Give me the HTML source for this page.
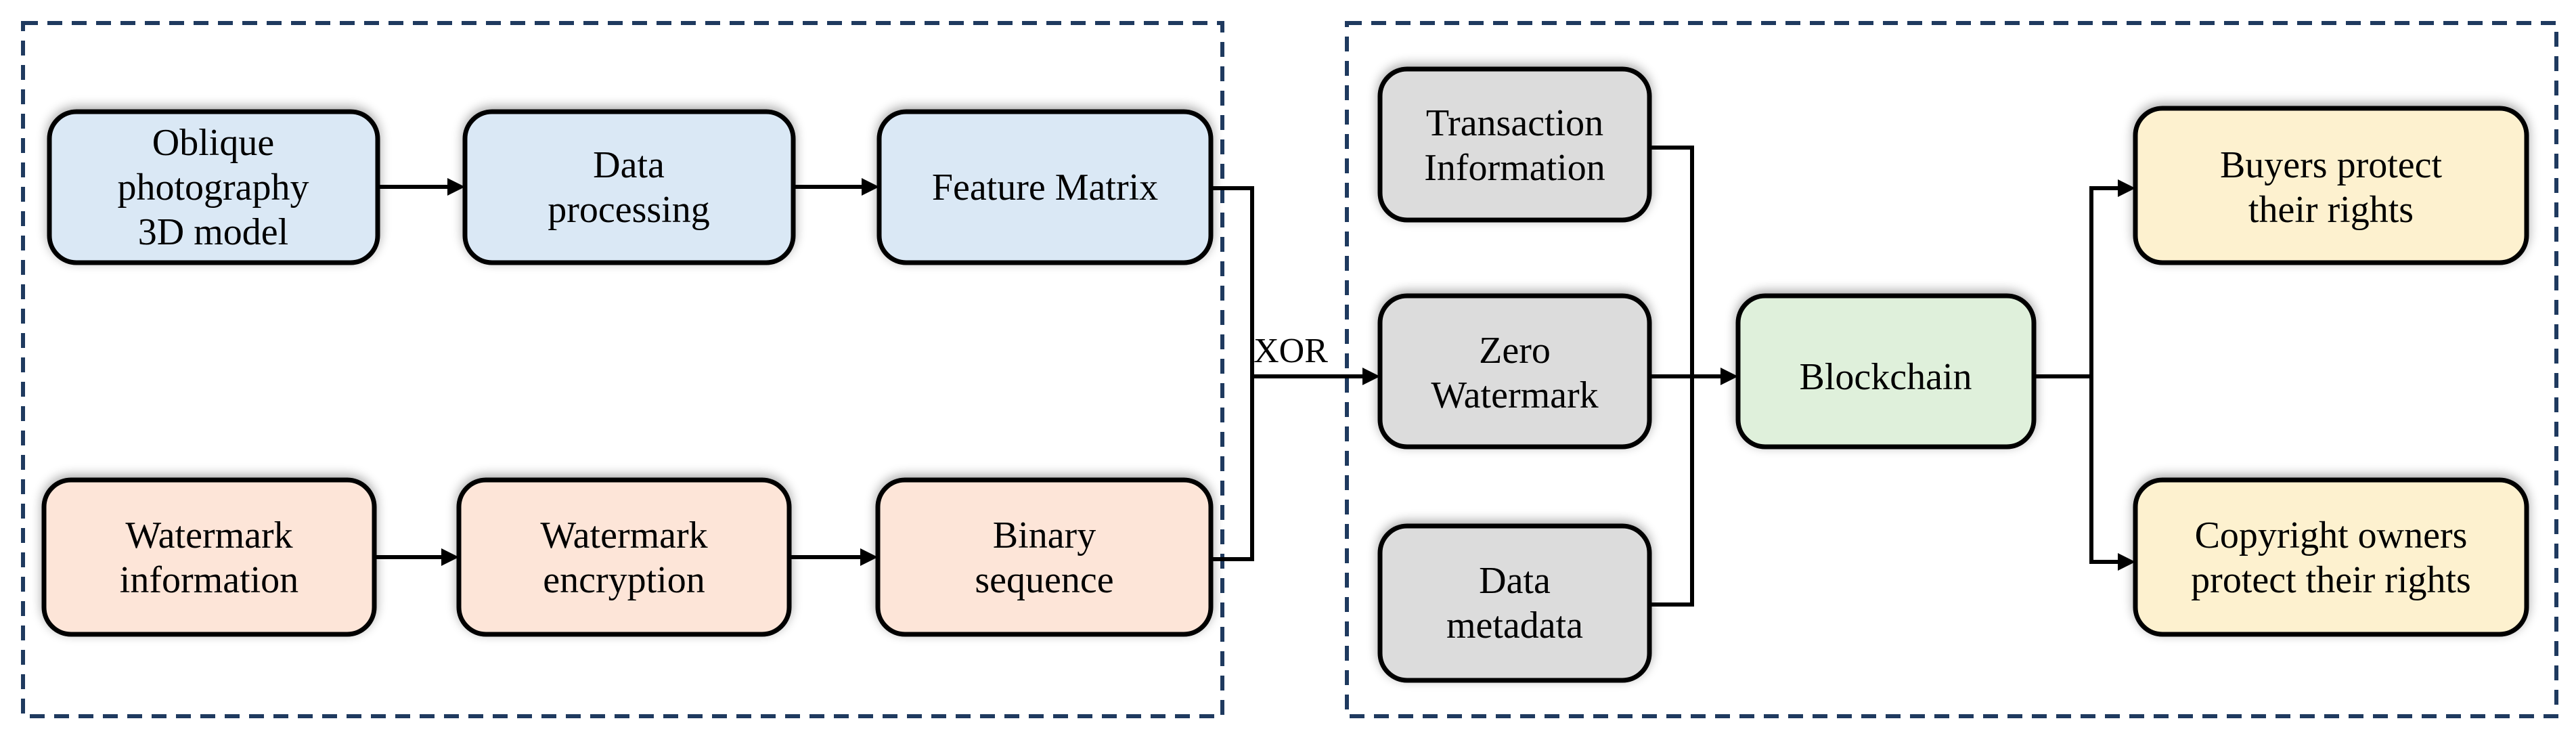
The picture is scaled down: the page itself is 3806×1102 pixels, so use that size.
<!DOCTYPE html>
<html><head><meta charset="utf-8"><style>
html,body{margin:0;padding:0;background:#fff;}
svg{display:block;}
text{font-family:"Liberation Serif",serif;font-size:56px;fill:#000;text-anchor:middle;}
</style></head><body>
<svg width="3806" height="1102" viewBox="0 0 3806 1102" xmlns="http://www.w3.org/2000/svg">
<defs>
<filter id="sh" x="-10%" y="-20%" width="120%" height="140%"><feGaussianBlur in="SourceAlpha" stdDeviation="8"/><feOffset dx="0" dy="-4"/><feComponentTransfer><feFuncA type="linear" slope="0.35"/></feComponentTransfer><feMerge><feMergeNode/><feMergeNode in="SourceGraphic"/></feMerge></filter>
</defs>
<g fill="none" stroke="#1f3a5f" stroke-width="6" stroke-dasharray="22,14">
<rect x="34" y="34" width="1772" height="1024"/>
<rect x="1990" y="34" width="1787" height="1024"/>
</g>
<g stroke="#000" stroke-width="7" filter="url(#sh)">
<rect x="73" y="165" width="485" height="223" rx="40" fill="#dae8f5"/>
<rect x="687" y="165" width="485" height="223" rx="40" fill="#dae8f5"/>
<rect x="1299" y="165" width="490" height="223" rx="40" fill="#dae8f5"/>
<rect x="65" y="709" width="488" height="228" rx="40" fill="#fde5d8"/>
<rect x="678" y="709" width="488" height="228" rx="40" fill="#fde5d8"/>
<rect x="1297" y="709" width="492" height="228" rx="40" fill="#fde5d8"/>
<rect x="2039" y="102" width="398" height="223" rx="40" fill="#dcdcdc"/>
<rect x="2039" y="437" width="398" height="223" rx="40" fill="#dcdcdc"/>
<rect x="2039" y="777" width="398" height="228" rx="40" fill="#dcdcdc"/>
<rect x="2568" y="437" width="437" height="223" rx="40" fill="#dff0db"/>
<rect x="3155" y="160" width="578" height="228" rx="40" fill="#fdf1cf"/>
<rect x="3155" y="709" width="578" height="228" rx="40" fill="#fdf1cf"/>
</g>
<g stroke="#000" stroke-width="6" fill="none">
<line x1="558" y1="276" x2="665" y2="276"/>
<line x1="1172" y1="276" x2="1277" y2="276"/>
<line x1="553" y1="823" x2="656" y2="823"/>
<line x1="1166" y1="823" x2="1275" y2="823"/>
<polyline points="1789,278 1850,278 1850,826 1789,826"/>
<line x1="1850" y1="556" x2="2017" y2="556"/>
<polyline points="2437,218 2500,218 2500,893 2437,893"/>
<line x1="2437" y1="556" x2="2546" y2="556"/>
<line x1="3005" y1="556" x2="3090" y2="556"/>
<polyline points="3133,278 3090,278 3090,830 3133,830"/>
</g>
<g fill="#000">
<path d="M687,276 l-26,-13 v26 z"/>
<path d="M1299,276 l-26,-13 v26 z"/>
<path d="M678,823 l-26,-13 v26 z"/>
<path d="M1297,823 l-26,-13 v26 z"/>
<path d="M2039,556 l-26,-13 v26 z"/>
<path d="M2568,556 l-26,-13 v26 z"/>
<path d="M3155,278 l-26,-13 v26 z"/>
<path d="M3155,830 l-26,-13 v26 z"/>
</g>
<text x="315" y="229">Oblique</text>
<text x="315" y="295">photography</text>
<text x="315" y="361">3D model</text>
<text x="929" y="262">Data</text>
<text x="929" y="328">processing</text>
<text x="1544" y="295">Feature Matrix</text>
<text x="309" y="809">Watermark</text>
<text x="309" y="875">information</text>
<text x="922" y="809">Watermark</text>
<text x="922" y="875">encryption</text>
<text x="1543" y="809">Binary</text>
<text x="1543" y="875">sequence</text>
<text x="1907" y="535" style="font-size:52px">XOR</text>
<text x="2238" y="200">Transaction</text>
<text x="2238" y="266">Information</text>
<text x="2238" y="536">Zero</text>
<text x="2238" y="602">Watermark</text>
<text x="2238" y="876">Data</text>
<text x="2238" y="942">metadata</text>
<text x="2786" y="575">Blockchain</text>
<text x="3444" y="262">Buyers protect</text>
<text x="3444" y="328">their rights</text>
<text x="3444" y="809">Copyright owners</text>
<text x="3444" y="875">protect their rights</text>
</svg>
</body></html>
